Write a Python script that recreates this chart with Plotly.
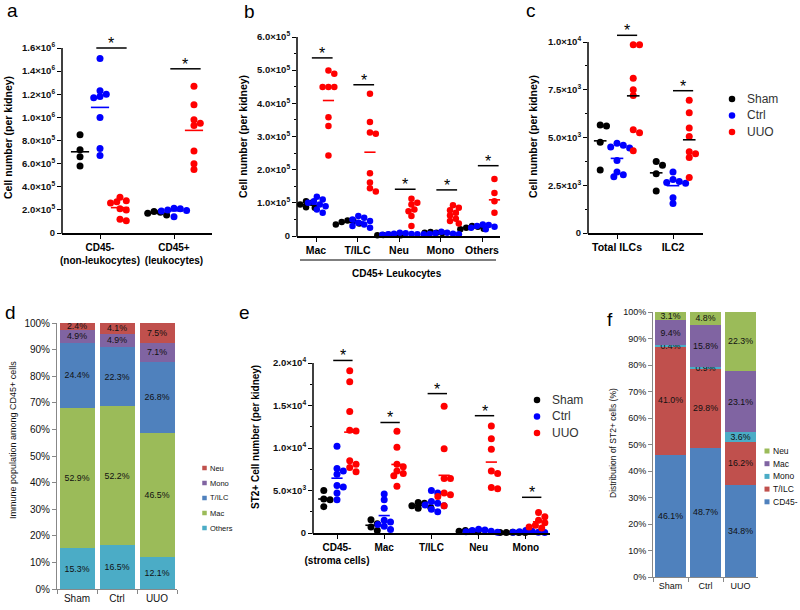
import numpy as np
import plotly.graph_objects as go

W, H = 800, 610
FONT = "Arial, 'Liberation Sans', sans-serif"

GROUPS = ["Sham", "Ctrl", "UUO"]
GROUP_COLORS = ["#000000", "#0000FF", "#FF0000"]

# ---------------- panel a ----------------
a_categories = ["CD45-<br>(non-leukocytes)", "CD45+<br>(leukocytes)"]
a_sham = [[8.5e5, 7.2e5, 6.6e5, 5.8e5],
          [1.85e5, 1.8e5, 1.7e5, 1.55e5]]
a_ctrl = [[1.51e6, 1.23e6, 1.2e6, 1.18e6, 1.17e6, 1.0e6, 7.3e5, 6.7e5],
          [2.15e5, 2.1e5, 2.0e5, 1.95e5, 1.9e5, 1.4e5]]
a_uuo = [[3.1e5, 2.8e5, 2.7e5, 2.6e5, 2.1e5, 2.0e5, 1.2e5, 1.05e5],
         [1.27e6, 1.11e6, 9.8e5, 9.5e5, 9.3e5, 7.1e5, 6.0e5, 5.5e5]]
a_sig = [1.6e6, 1.42e6]
a_yticks = [0, 2e5, 4e5, 6e5, 8e5, 1e6, 1.2e6, 1.4e6, 1.6e6]
a_yticktext = ["0", "2.0×10<sup>5</sup>", "4.0×10<sup>5</sup>", "6.0×10<sup>5</sup>",
               "8.0×10<sup>5</sup>", "1.0×10<sup>6</sup>", "1.2×10<sup>6</sup>",
               "1.4×10<sup>6</sup>", "1.6×10<sup>6</sup>"]

# ---------------- panel b ----------------
b_categories = ["Mac", "T/ILC", "Neu", "Mono", "Others"]
b_sham = [[1.05e5, 1.0e5, 0.95e5, 0.87e5, 0.85e5],
          [0.47e5, 0.45e5, 0.42e5, 0.38e5, 0.35e5],
          [0.04e5, 0.035e5, 0.03e5, 0.025e5, 0.02e5],
          [0.12e5, 0.1e5, 0.1e5, 0.09e5],
          [0.3e5, 0.28e5, 0.25e5, 0.22e5, 0.2e5]]
b_ctrl = [[1.18e5, 1.1e5, 1.05e5, 1.0e5, 0.95e5, 0.9e5, 0.8e5, 0.7e5],
          [0.6e5, 0.55e5, 0.5e5, 0.45e5, 0.4e5, 0.35e5, 0.3e5, 0.25e5],
          [0.1e5, 0.08e5, 0.07e5, 0.06e5, 0.05e5, 0.05e5, 0.04e5],
          [0.13e5, 0.1e5, 0.08e5, 0.07e5, 0.06e5, 0.05e5, 0.05e5],
          [0.35e5, 0.33e5, 0.3e5, 0.28e5, 0.25e5, 0.2e5]]
b_uuo = [[4.99e5, 4.89e5, 4.49e5, 4.49e5, 4.49e5, 3.58e5, 3.32e5, 2.43e5],
         [4.29e5, 3.44e5, 3.12e5, 3.08e5, 1.89e5, 1.61e5, 1.44e5, 1.34e5],
         [1.12e5, 1.0e5, 0.95e5, 0.8e5, 0.75e5, 0.6e5, 0.3e5],
         [0.93e5, 0.85e5, 0.78e5, 0.7e5, 0.62e5, 0.52e5, 0.45e5, 0.38e5],
         [1.72e5, 1.3e5, 1.28e5, 1.05e5, 1.0e5, 0.7e5, 0.58e5]]
b_sig = [5.37e5, 4.56e5, 1.41e5, 1.39e5, 2.12e5]
b_yticks = [0, 1e5, 2e5, 3e5, 4e5, 5e5, 6e5]
b_yticktext = ["0", "1.0×10<sup>5</sup>", "2.0×10<sup>5</sup>", "3.0×10<sup>5</sup>",
               "4.0×10<sup>5</sup>", "5.0×10<sup>5</sup>", "6.0×10<sup>5</sup>"]
b_yminor = [0.5e5, 1.5e5, 2.5e5, 3.5e5, 4.5e5, 5.5e5]

# ---------------- panel c ----------------
c_categories = ["Total ILCs", "ILC2"]
c_sham = [[5.65e3, 5.6e3, 4.75e3, 3.3e3],
          [3.75e3, 3.55e3, 3.1e3, 2.2e3]]
c_ctrl = [[4.7e3, 4.6e3, 4.5e3, 4.45e3, 3.8e3, 3.2e3, 3.05e3, 2.95e3],
          [3.2e3, 2.8e3, 2.7e3, 2.65e3, 2.6e3, 1.85e3, 1.55e3]]
c_uuo = [[9.85e3, 9.85e3, 8.1e3, 7.5e3, 7.2e3, 5.4e3, 5.25e3, 4.3e3],
         [6.95e3, 6.3e3, 5.5e3, 5.05e3, 4.25e3, 4.15e3, 3.95e3, 2.9e3]]
c_sig = [1.035e4, 7.45e3]
c_yticks = [0, 2500, 5000, 7500, 10000]
c_yticktext = ["0", "2.5×10<sup>3</sup>", "5.0×10<sup>3</sup>", "7.5×10<sup>3</sup>", "1.0×10<sup>4</sup>"]
c_yminor = [1250, 3750, 6250, 8750]

# ---------------- panel e ----------------
e_categories = ["CD45-<br>(stroma cells)", "Mac", "T/ILC", "Neu", "Mono"]
e_sham = [[5.0e3, 4.0e3, 3.9e3, 3.1e3],
          [1.55e3, 1.1e3, 0.7e3, 0.3e3],
          [3.6e3, 3.5e3, 3.2e3, 3.0e3, 2.9e3],
          [0.3e3, 0.2e3, 0.2e3, 0.15e3],
          [0.1e3, 0.05e3, 0.05e3, 0.05e3, 0.05e3]]
e_ctrl = [[10.2e3, 7.6e3, 7.3e3, 6.9e3, 5.6e3, 5.4e3, 4.7e3, 3.9e3],
          [4.6e3, 3.9e3, 2.9e3, 1.5e3, 1.3e3, 1.0e3, 0.8e3, 0.4e3],
          [5.0e3, 4.7e3, 3.7e3, 3.5e3, 3.3e3, 3.2e3, 2.8e3, 2.5e3],
          [0.45e3, 0.35e3, 0.3e3, 0.2e3, 0.15e3, 0.1e3],
          [0.3e3, 0.2e3, 0.15e3, 0.1e3, 0.1e3, 0.05e3]]
e_uuo = [[19.1e3, 17.8e3, 14.3e3, 12.1e3, 12.0e3, 8.5e3, 8.1e3, 7.7e3, 7.2e3],
         [11.96e3, 10.1e3, 8.1e3, 7.8e3, 7.3e3, 7.0e3, 6.75e3, 5.5e3],
         [14.9e3, 9.9e3, 6.4e3, 6.4e3, 4.7e3, 4.5e3, 4.3e3, 3.2e3],
         [12.6e3, 11.1e3, 9.85e3, 7.3e3, 7.0e3, 5.35e3, 5.2e3],
         [2.4e3, 1.9e3, 1.5e3, 1.2e3, 0.9e3, 0.7e3, 0.6e3]]
e_sig = [2.03e4, 1.30e4, 1.64e4, 1.38e4, 4.2e3]
e_yticks = [0, 5000, 10000, 15000, 20000]
e_yticktext = ["0", "5.0×10<sup>3</sup>", "1.0×10<sup>4</sup>", "1.5×10<sup>4</sup>", "2.0×10<sup>4</sup>"]
e_yminor = [2500, 7500, 12500, 17500]

# ---------------- panel d ----------------
d_groups = ["Sham", "Ctrl", "UUO"]
d_segments = ["Others", "Mac", "T/ILC", "Mono", "Neu"]  # bottom to top
d_others = [15.3, 16.5, 12.1]
d_mac = [52.9, 52.2, 46.5]
d_tilc = [24.4, 22.3, 26.8]
d_mono = [4.9, 4.9, 7.1]
d_neu = [2.4, 4.1, 7.5]
d_colors = ["#4BACC6", "#9BBB59", "#4F81BD", "#8064A2", "#C0504D"]

# ---------------- panel f ----------------
f_groups = ["Sham", "Ctrl", "UUO"]
f_segments = ["CD45-", "T/ILC", "Mono", "Mac", "Neu"]  # bottom to top
f_cd45 = [46.1, 48.7, 34.8]
f_tilc = [41.0, 29.8, 16.2]
f_mono = [0.4, 0.9, 3.6]
f_mac = [9.4, 15.8, 23.1]
f_neu = [3.1, 4.8, 22.3]
f_colors = ["#4F81BD", "#C0504D", "#4BACC6", "#8064A2", "#9BBB59"]

pct_ticks = [0, 10, 20, 30, 40, 50, 60, 70, 80, 90, 100]
pct_ticktext = ["0%", "10%", "20%", "30%", "40%", "50%", "60%", "70%", "80%", "90%", "100%"]

# =====================================================================
fig = go.Figure()
layout_axes = {}
shapes = []
annotations = []


def pxx(p):
    return p / W


def pxy(p):
    return 1 - p / H


def swarm_x(values, center, ppu_x, ppu_y, diam):
    order = sorted(range(len(values)), key=lambda i: -values[i])
    placed = []
    xs = [0.0] * len(values)
    steps = [0.0]
    for k in range(1, 14):
        steps += [k * 0.45 * diam, -k * 0.45 * diam]
    for i in order:
        yp = values[i] * ppu_y
        chosen = steps[-1]
        for s in steps:
            if all((s - p) ** 2 + (yp - q) ** 2 >= (0.78 * diam) ** 2 for p, q in placed):
                chosen = s
                break
        placed.append((chosen, yp))
        xs[i] = center + chosen / ppu_x
    return xs


def add_scatter_panel(n, spec, cats, data, ytv, ytt, yminor, sig, mean_colors,
                      title, title_pos, title_size, sig_span):
    ax = "" if n == 1 else str(n)
    xn, yn = "x" + ax, "y" + ax
    left, right, bottom = spec["left"], spec["right"], spec["bottom"]
    top_px, top_val, dom_top = spec["top_px"], spec["top_val"], spec["dom_top"]
    c0, unit = spec["c0"], spec["unit"]
    ppu_y = (bottom - top_px) / top_val
    for gi, (g, col) in enumerate(zip(GROUPS, GROUP_COLORS)):
        xs, ys, mx, my = [], [], [], []
        for ci, vals in enumerate(data[gi]):
            center = ci + spec["offsets"][gi]
            xs += swarm_x(vals, center, unit, ppu_y, spec["diam"])
            ys += list(vals)
            mx.append(center)
            my.append(float(np.mean(vals)))
        fig.add_trace(go.Scatter(x=xs, y=ys, mode="markers", name=g,
                                 marker=dict(color=col, size=spec["diam"], line=dict(width=0)),
                                 xaxis=xn, yaxis=yn, showlegend=False, cliponaxis=False,
                                 hoverinfo="y"))
        fig.add_trace(go.Scatter(x=mx, y=my, mode="markers", name=g + " mean",
                                 marker=dict(symbol="line-ew", size=spec["mean_w"],
                                             line=dict(color=mean_colors[gi], width=1.6)),
                                 xaxis=xn, yaxis=yn, showlegend=False, cliponaxis=False,
                                 hoverinfo="y"))
    for ci, s in enumerate(sig):
        shapes.append(dict(type="line", xref=xn, yref=yn, x0=ci + sig_span[0], x1=ci + sig_span[1],
                           y0=s, y1=s, line=dict(color="black", width=1.5)))
        annotations.append(dict(text="*", xref=xn, yref=yn, x=ci + (sig_span[0] + sig_span[1]) / 2,
                                y=s, yanchor="bottom", yshift=-6, showarrow=False,
                                font=dict(size=16, color="black", family=FONT)))
    yr_top = top_val * (bottom - dom_top) / (bottom - top_px)
    layout_axes["xaxis" + ax] = dict(
        domain=[pxx(left), pxx(right)], range=[(left - c0) / unit, (right - c0) / unit],
        anchor=yn, tickmode="array", tickvals=list(range(len(cats))), ticktext=cats,
        ticks="outside", ticklen=4, tickwidth=1.2, tickcolor="black", automargin=False,
        showline=True, linecolor="black", linewidth=1.5, showgrid=False, zeroline=False,
        tickfont=dict(size=spec["xfont"], color="black", family=FONT, weight="bold"))
    ya = dict(
        domain=[pxy(bottom), pxy(dom_top)], range=[0, yr_top], anchor=xn, automargin=False,
        tickmode="array", tickvals=ytv, ticktext=ytt, ticks="outside", ticklen=4,
        tickwidth=1.2, tickcolor="black", showline=False, showgrid=False, zeroline=False,
        tickfont=dict(size=9.5, color="#111111", family=FONT, weight="bold"))
    if yminor:
        ya["minor"] = dict(tickmode="array", tickvals=yminor, ticks="outside", ticklen=2.5,
                           tickcolor="black", tickwidth=1, showgrid=False)
    layout_axes["yaxis" + ax] = ya
    shapes.append(dict(type="line", xref="paper", yref="paper", x0=pxx(left), x1=pxx(left),
                       y0=pxy(bottom + 0.7), y1=pxy(top_px), line=dict(color="black", width=1.5)))
    annotations.append(dict(text=title, xref="paper", yref="paper", x=pxx(title_pos[0]),
                            y=pxy(title_pos[1]), textangle=-90, showarrow=False,
                            xanchor="center", yanchor="middle",
                            font=dict(size=title_size, color="black", family=FONT, weight="bold")))


def add_bar_panel(n, dom, groups, segments, values, colors, tfont, title, title_pos,
                  title_size, bargap):
    ax = str(n)
    xn, yn = "x" + ax, "y" + ax
    for name, vals, col in zip(segments, values, colors):
        fig.add_trace(go.Bar(x=groups, y=vals, name=name, marker=dict(color=col, line=dict(width=0)),
                             texttemplate="%{y:.1f}%", textposition="inside",
                             insidetextanchor="middle", textangle=0,
                             textfont=dict(size=9, color="#111111", family=FONT),
                             xaxis=xn, yaxis=yn, showlegend=False, width=1 - bargap))
    layout_axes["xaxis" + ax] = dict(
        domain=[pxx(dom[0]), pxx(dom[1])], anchor=yn, type="category", range=[-0.5, 2.5],
        ticks="outside", tickson="boundaries", ticklen=4, tickcolor="#888888", automargin=False,
        showline=True, linecolor="#888888", linewidth=1, showgrid=False, zeroline=False,
        tickfont=dict(size=tfont, color="#111111", family=FONT))
    layout_axes["yaxis" + ax] = dict(
        domain=[pxy(dom[2]), pxy(dom[3])], anchor=xn, range=[0, 100], automargin=False,
        tickmode="array", tickvals=pct_ticks, ticktext=pct_ticktext, ticks="outside", ticklen=4,
        tickcolor="#888888", showline=True, linecolor="#888888", linewidth=1,
        showgrid=False, zeroline=False,
        tickfont=dict(size=tfont, color="#111111", family=FONT))
    annotations.append(dict(text=title, xref="paper", yref="paper", x=pxx(title_pos[0]),
                            y=pxy(title_pos[1]), textangle=-90, showarrow=False,
                            xanchor="center", yanchor="middle",
                            font=dict(size=title_size, color="#111111", family=FONT)))


def add_manual_legend(names, colors, x_marker, x_text, y0, dy, size, fsize, circle, fcolor):
    for i, (nm, col) in enumerate(zip(names, colors)):
        yc = y0 + i * dy
        shapes.append(dict(type="circle" if circle else "rect", xref="paper", yref="paper",
                           x0=pxx(x_marker - size / 2), x1=pxx(x_marker + size / 2),
                           y0=pxy(yc + size / 2), y1=pxy(yc - size / 2),
                           fillcolor=col, line=dict(width=0)))
        annotations.append(dict(text=nm, xref="paper", yref="paper", x=pxx(x_text), y=pxy(yc),
                                xanchor="left", yanchor="middle", showarrow=False,
                                font=dict(size=fsize, color=fcolor, family=FONT)))


# ---- panel a
add_scatter_panel(1, dict(left=62, right=212, bottom=233, top_px=48, top_val=1.6e6, dom_top=20,
                          c0=100, unit=74, offsets=[-0.27, 0, 0.27], diam=7, mean_w=13, xfont=10),
                  a_categories, [a_sham, a_ctrl, a_uuo], a_yticks, a_yticktext, None, a_sig,
                  ["black", "#0000FF", "#FF0000"], "Cell number (per kidney)", (8, 138), 10.5,
                  (-0.05, 0.36))
# ---- panel b
add_scatter_panel(2, dict(left=297, right=500, bottom=236, top_px=37, top_val=6e5, dom_top=20,
                          c0=316, unit=41.5, offsets=[-0.24, 0.02, 0.3], diam=6.5, mean_w=8, xfont=10.5),
                  b_categories, [b_sham, b_ctrl, b_uuo], b_yticks, b_yticktext, b_yminor, b_sig,
                  ["black", "#0000FF", "#FF0000"], "Cell number (per kidney)", (243, 137), 10.5,
                  (-0.1, 0.4))
# ---- panel c
add_scatter_panel(3, dict(left=588, right=703, bottom=233, top_px=42, top_val=1e4, dom_top=20,
                          c0=617, unit=56, offsets=[-0.3, 0, 0.29], diam=7, mean_w=9, xfont=10.5),
                  c_categories, [c_sham, c_ctrl, c_uuo], c_yticks, c_yticktext, c_yminor, c_sig,
                  ["black", "#0000FF", "black"], "Cell number (per kidney)", (533, 137), 10.5,
                  (0.0, 0.36))
# ---- panel e
add_scatter_panel(5, dict(left=313, right=550, bottom=533, top_px=363, top_val=2e4, dom_top=340,
                          c0=337, unit=47.2, offsets=[-0.28, 0, 0.27], diam=7, mean_w=8, xfont=10),
                  e_categories, [e_sham, e_ctrl, e_uuo], e_yticks, e_yticktext, e_yminor, e_sig,
                  ["black", "#0000FF", "#FF0000"], "ST2+ Cell number (per kidney)", (255, 437), 10,
                  (-0.08, 0.33))
# ---- panel d
add_bar_panel(4, (57, 177, 589, 323), d_groups, d_segments,
              [d_others, d_mac, d_tilc, d_mono, d_neu], d_colors, 10,
              "Immune population among CD45+ cells", (13, 440), 9, 0.125)
# ---- panel f
add_bar_panel(6, (653, 758, 577, 312), f_groups, f_segments,
              [f_cd45, f_tilc, f_mono, f_mac, f_neu], f_colors, 9,
              "Distribution of ST2+ cells (%)", (613, 443), 8.5, 0.114)

# legends
add_manual_legend(GROUPS, GROUP_COLORS, 732, 745, 99, 16.5, 6.5, 12, True, "#333333")
add_manual_legend(GROUPS, GROUP_COLORS, 537, 550, 400, 16.5, 6.5, 12, True, "#333333")
add_manual_legend(d_segments[::-1], d_colors[::-1], 204.5, 208, 468, 15, 4.5, 7.5, False, "#111111")
add_manual_legend(f_segments[::-1], f_colors[::-1], 767, 771, 451, 12.7, 5, 8.5, False, "#111111")

# CD45+ Leukocytes bracket under panel b
shapes.append(dict(type="line", xref="paper", yref="paper", x0=pxx(300), x1=pxx(496),
                   y0=pxy(260), y1=pxy(260), line=dict(color="black", width=1.2)))
annotations.append(dict(text="CD45+ Leukocytes", xref="paper", yref="paper", x=pxx(397),
                        y=pxy(273), showarrow=False, xanchor="center", yanchor="middle",
                        font=dict(size=10, color="black", family=FONT, weight="bold")))

# panel letters
for letter, (lx, ly) in zip(["a", "b", "c", "d", "e", "f"],
                            [(12, 10), (249, 12), (531, 10), (10, 313), (244, 312), (610, 319)]):
    annotations.append(dict(text=letter, xref="paper", yref="paper", x=pxx(lx), y=pxy(ly),
                            xanchor="center", yanchor="middle", showarrow=False,
                            font=dict(size=19, color="black", family=FONT)))

fig.update_layout(
    width=W, height=H, margin=dict(l=0, r=0, t=0, b=0, autoexpand=False),
    paper_bgcolor="white", plot_bgcolor="rgba(0,0,0,0)",
    barmode="stack", showlegend=False,
    uniformtext=dict(minsize=8.5, mode="show"),
    font=dict(family=FONT, color="black"),
    shapes=shapes, annotations=annotations,
    **layout_axes,
)

fig.write_html("out.html", config={"displayModeBar": False},
               post_script="document.body.style.margin='0px';document.body.style.overflow='hidden';")
